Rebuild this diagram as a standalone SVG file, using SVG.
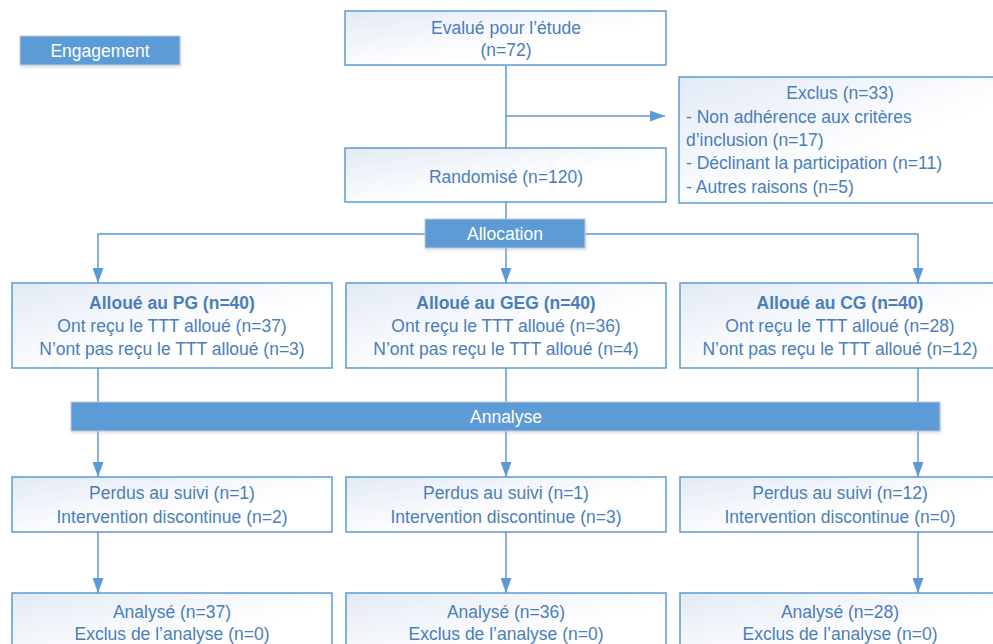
<svg xmlns="http://www.w3.org/2000/svg" width="993" height="644" viewBox="0 0 993 644">
<style>
.box{stroke:#5b9bd5;stroke-width:1.5;fill:url(#g)}
.hdr{fill:#5b9bd5;stroke:#c3cbd3;stroke-width:1;filter:url(#sh)}
.t{font-family:"Liberation Sans",Arial,sans-serif;font-size:17.5px;fill:#4a7ebb;text-anchor:middle}
.tl{text-anchor:start}
.b{font-weight:bold}
.ht{font-family:"Liberation Sans",Arial,sans-serif;font-size:17.5px;fill:#ffffff;text-anchor:middle}
.c{stroke:#5b9bd5;stroke-width:1.5;fill:none}
.a{marker-end:url(#ar)}
</style>
<defs>
<linearGradient id="g" x1="0" y1="0" x2="1" y2="1">
<stop offset="0" stop-color="#e3eaf5"/>
<stop offset="0.6" stop-color="#ffffff"/>
<stop offset="1" stop-color="#ffffff"/>
</linearGradient>
<filter id="sh" x="-5%" y="-20%" width="110%" height="160%">
<feDropShadow dx="1" dy="2" stdDeviation="1.5" flood-color="#9aa8b8" flood-opacity="0.35"/>
</filter>
<marker id="ar" markerUnits="userSpaceOnUse" markerWidth="15" markerHeight="11" refX="15" refY="5.5" orient="auto">
<path d="M0,0 L15,5.5 L0,11 z" fill="#5b9bd5"/>
</marker>
</defs>

<g id="connectors">
<path class="c" d="M506,65 V148"/>
<path class="c a" d="M506,116 H665"/>
<path class="c" d="M506,202 V219"/>
<path class="c a" d="M425,234 H98 V283"/>
<path class="c a" d="M506,248 V283"/>
<path class="c a" d="M585,234 H918 V283"/>
<path class="c" d="M98,368 V402"/>
<path class="c" d="M506,368 V402"/>
<path class="c" d="M918,368 V402"/>
<path class="c a" d="M98,431 V477"/>
<path class="c a" d="M506,431 V477"/>
<path class="c a" d="M918,431 V477"/>
<path class="c a" d="M98,532 V593"/>
<path class="c a" d="M506,532 V593"/>
<path class="c a" d="M918,532 V593"/>
</g>

<g id="engagement">
<rect class="hdr" x="20" y="36" width="160" height="29"/>
<text class="ht" x="100" y="57">Engagement</text>
</g>

<g id="evalue">
<rect class="box" x="345" y="11" width="321" height="54"/>
<text class="t" x="506" y="34">Evalué pour l’étude</text>
<text class="t" x="506" y="56">(n=72)</text>
</g>

<g id="exclus">
<rect class="box" x="679" y="77" width="322" height="126"/>
<text class="t" x="840" y="99">Exclus (n=33)</text>
<text class="t tl" x="686" y="123">- Non adhérence aux critères</text>
<text class="t tl" x="686" y="146">d’inclusion (n=17)</text>
<text class="t tl" x="686" y="169">- Déclinant la participation (n=11)</text>
<text class="t tl" x="686" y="193">- Autres raisons (n=5)</text>
</g>

<g id="randomise">
<rect class="box" x="345" y="148" width="321" height="54"/>
<text class="t" x="506" y="183">Randomisé (n=120)</text>
</g>

<g id="allocation">
<rect class="hdr" x="425" y="219" width="160" height="29"/>
<text class="ht" x="505" y="240">Allocation</text>
</g>

<g id="alloue-pg">
<rect class="box" x="12" y="283" width="320" height="85"/>
<text class="t b" x="172" y="309">Alloué au PG (n=40)</text>
<text class="t" x="172" y="332">Ont reçu le TTT alloué (n=37)</text>
<text class="t" x="172" y="355">N’ont pas reçu le TTT alloué (n=3)</text>
</g>

<g id="alloue-geg">
<rect class="box" x="346" y="283" width="320" height="85"/>
<text class="t b" x="506" y="309">Alloué au GEG (n=40)</text>
<text class="t" x="506" y="332">Ont reçu le TTT alloué (n=36)</text>
<text class="t" x="506" y="355">N’ont pas reçu le TTT alloué (n=4)</text>
</g>

<g id="alloue-cg">
<rect class="box" x="680" y="283" width="320" height="85"/>
<text class="t b" x="840" y="309">Alloué au CG (n=40)</text>
<text class="t" x="840" y="332">Ont reçu le TTT alloué (n=28)</text>
<text class="t" x="840" y="355">N’ont pas reçu le TTT alloué (n=12)</text>
</g>

<g id="annalyse">
<rect class="hdr" x="71" y="402" width="869" height="29"/>
<text class="ht" x="506" y="423">Annalyse</text>
</g>

<g id="suivi-pg">
<rect class="box" x="12" y="477" width="320" height="55"/>
<text class="t" x="172" y="499">Perdus au suivi (n=1)</text>
<text class="t" x="172" y="523">Intervention discontinue (n=2)</text>
</g>

<g id="suivi-geg">
<rect class="box" x="346" y="477" width="320" height="55"/>
<text class="t" x="506" y="499">Perdus au suivi (n=1)</text>
<text class="t" x="506" y="523">Intervention discontinue (n=3)</text>
</g>

<g id="suivi-cg">
<rect class="box" x="680" y="477" width="320" height="55"/>
<text class="t" x="840" y="499">Perdus au suivi (n=12)</text>
<text class="t" x="840" y="523">Intervention discontinue (n=0)</text>
</g>

<g id="analyse-pg">
<rect class="box" x="12" y="593" width="320" height="70"/>
<text class="t" x="172" y="618">Analysé (n=37)</text>
<text class="t" x="172" y="640">Exclus de l’analyse (n=0)</text>
</g>

<g id="analyse-geg">
<rect class="box" x="346" y="593" width="320" height="70"/>
<text class="t" x="506" y="618">Analysé (n=36)</text>
<text class="t" x="506" y="640">Exclus de l’analyse (n=0)</text>
</g>

<g id="analyse-cg">
<rect class="box" x="680" y="593" width="320" height="70"/>
<text class="t" x="840" y="618">Analysé (n=28)</text>
<text class="t" x="840" y="640">Exclus de l’analyse (n=0)</text>
</g>
</svg>
